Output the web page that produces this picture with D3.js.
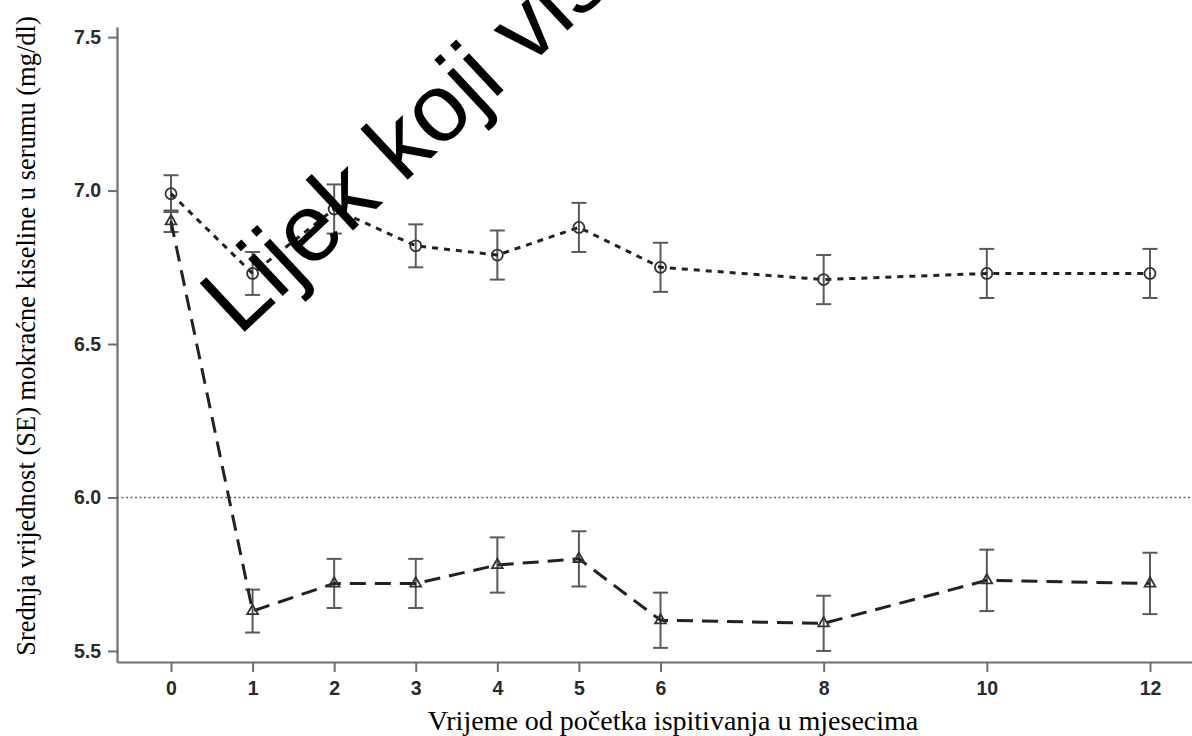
<!DOCTYPE html>
<html>
<head>
<meta charset="utf-8">
<script src="https://cdn.jsdelivr.net/npm/d3@7"></script>
<style>
html,body{margin:0;padding:0;background:#fff;}
svg{display:block;}
</style>
</head>
<body>
<svg id="chart" width="1192" height="736"></svg>
<script>
// ---- data ----
const months = [0, 1, 2, 3, 4, 5, 6, 8, 10, 12];
const placeboMean = [6.99, 6.73, 6.94, 6.82, 6.79, 6.88, 6.75, 6.71, 6.73, 6.73];
const placeboSE   = [0.06, 0.07, 0.08, 0.07, 0.08, 0.08, 0.08, 0.08, 0.08, 0.08];
const drugMean    = [6.90, 5.63, 5.72, 5.72, 5.78, 5.80, 5.60, 5.59, 5.73, 5.72];
const drugSE      = [0.035, 0.07, 0.08, 0.08, 0.09, 0.09, 0.09, 0.09, 0.10, 0.10];
const yTicks = [5.5, 6.0, 6.5, 7.0, 7.5];
const xTicks = months;
const refValue = 6.0;
const xTitle = "Vrijeme od početka ispitivanja u mjesecima";
const yTitle = "Srednja vrijednost (SE) mokraćne kiseline u serumu (mg/dl)";
const watermark = "Lijek koji više nije odobren";

const svg = d3.select("#chart");
const x = d3.scaleLinear().domain([-0.662, 12.515]).range([117, 1192]);
const y = d3.scaleLinear().domain([5.464, 7.533]).range([662, 27]);

const axisColor = "#6e6e6e";

// axes
const gx = svg.append("g").attr("transform", `translate(0,${y.range()[0]})`)
  .call(d3.axisBottom(x).tickValues(xTicks).tickSize(10).tickSizeOuter(0).tickPadding(9).tickFormat(d3.format("d")));
const gy = svg.append("g").attr("transform", `translate(${x.range()[0]},0)`)
  .call(d3.axisLeft(y).tickValues(yTicks).tickSize(9).tickSizeOuter(0).tickPadding(7).tickFormat(d3.format(".1f")));
[gx, gy].forEach(g => {
  g.select(".domain").attr("stroke", axisColor).attr("stroke-width", 2.2);
  g.selectAll(".tick line").attr("stroke", axisColor).attr("stroke-width", 2);
  g.selectAll(".tick text").attr("fill", "#2a2a2a").attr("font-family", "Liberation Sans, Arial, sans-serif")
    .attr("font-weight", "bold").attr("font-size", 19.5);
});

// reference line
svg.append("line")
  .attr("x1", x.range()[0]).attr("x2", x.range()[1])
  .attr("y1", y(refValue)).attr("y2", y(refValue))
  .attr("stroke", "#666").attr("stroke-width", 1.6).attr("stroke-dasharray", "2,2.5");

const series = [
  {mean: placeboMean, se: placeboSE, dash: "6,6", marker: "circle"},
  {mean: drugMean, se: drugSE, dash: "16,9", marker: "triangle"}
];

series.forEach(s => {
  const pts = months.map((m, i) => ({m, v: s.mean[i], e: s.se[i]}));
  // error bars
  const eb = svg.append("g").attr("stroke", "#5a5a5a").attr("stroke-width", 2).attr("fill", "none");
  pts.forEach(p => {
    eb.append("line").attr("x1", x(p.m)).attr("x2", x(p.m)).attr("y1", y(p.v - p.e)).attr("y2", y(p.v + p.e));
    eb.append("line").attr("x1", x(p.m) - 7.5).attr("x2", x(p.m) + 7.5).attr("y1", y(p.v + p.e)).attr("y2", y(p.v + p.e));
    eb.append("line").attr("x1", x(p.m) - 7.5).attr("x2", x(p.m) + 7.5).attr("y1", y(p.v - p.e)).attr("y2", y(p.v - p.e));
  });
  // line
  svg.append("path").datum(pts)
    .attr("d", d3.line().x(d => x(d.m)).y(d => y(d.v)))
    .attr("fill", "none").attr("stroke", "#222").attr("stroke-width", 3)
    .attr("stroke-dasharray", s.dash);
  // markers
  const sym = s.marker === "circle" ? d3.symbolCircle : d3.symbolTriangle;
  const size = s.marker === "circle" ? 95 : 50;
  svg.append("g").selectAll("path").data(pts).join("path")
    .attr("transform", d => `translate(${x(d.m)},${y(d.v)})`)
    .attr("d", d3.symbol().type(sym).size(size))
    .attr("fill", "none").attr("stroke", "#333").attr("stroke-width", 1.8);
});

// axis titles
svg.append("text").attr("x", 673).attr("y", 730).attr("text-anchor", "middle")
  .attr("font-family", "Liberation Serif, Times New Roman, serif").attr("font-size", 28).attr("fill", "#000")
  .text(xTitle);
svg.append("text").attr("transform", "translate(35,336) rotate(-90)").attr("text-anchor", "middle")
  .attr("font-family", "Liberation Serif, Times New Roman, serif").attr("font-size", 26.5).attr("fill", "#000")
  .text(yTitle);

// watermark
svg.append("text").attr("transform", "translate(239,337) rotate(-43)")
  .attr("font-family", "Liberation Sans, Arial, sans-serif").attr("font-size", 96).attr("fill", "#000")
  .text(watermark);
</script>
</body>
</html>
